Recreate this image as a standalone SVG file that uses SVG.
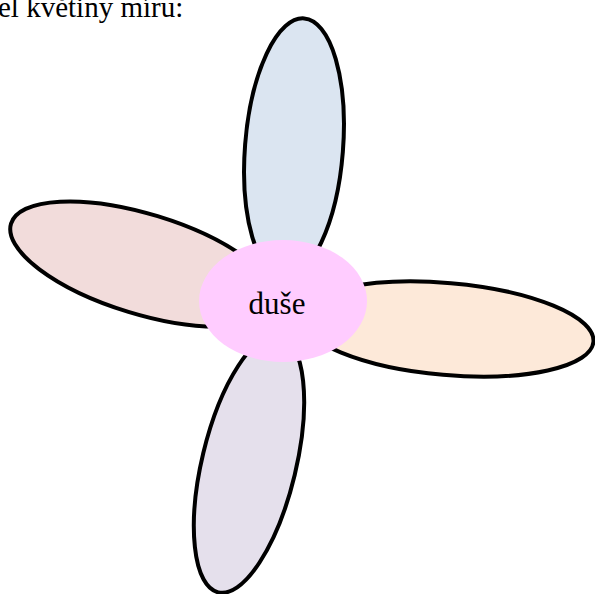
<svg xmlns="http://www.w3.org/2000/svg" width="595" height="594" viewBox="0 0 595 594">
<style>
.petal{stroke:#000;stroke-width:4}
.lbl{font-family:"Liberation Serif","Times New Roman",serif;fill:#000}
</style>
<rect width="595" height="594" fill="#fff"/>
<text class="lbl" x="-2" y="17" font-size="29">el květiny míru:</text>
<g id="petal-left"><ellipse class="petal" cx="143" cy="264" rx="138" ry="50" transform="rotate(17 143 264)" fill="#f2dcdb"/></g>
<g id="petal-right"><ellipse class="petal" cx="447" cy="329" rx="147" ry="46" transform="rotate(5 447 329)" fill="#fde9d9"/></g>
<g id="petal-top"><ellipse class="petal" cx="294" cy="148" rx="49" ry="130" transform="rotate(4.5 294 148)" fill="#dbe5f1"/></g>
<g id="petal-bottom"><ellipse class="petal" cx="249" cy="464" rx="47" ry="132" transform="rotate(13.5 249 464)" fill="#e5e0ec"/></g>
<g id="center"><ellipse cx="283" cy="301" rx="84" ry="61" fill="#ffccff"/><text class="lbl" x="277" y="314" font-size="31" text-anchor="middle">duše</text></g>
</svg>
